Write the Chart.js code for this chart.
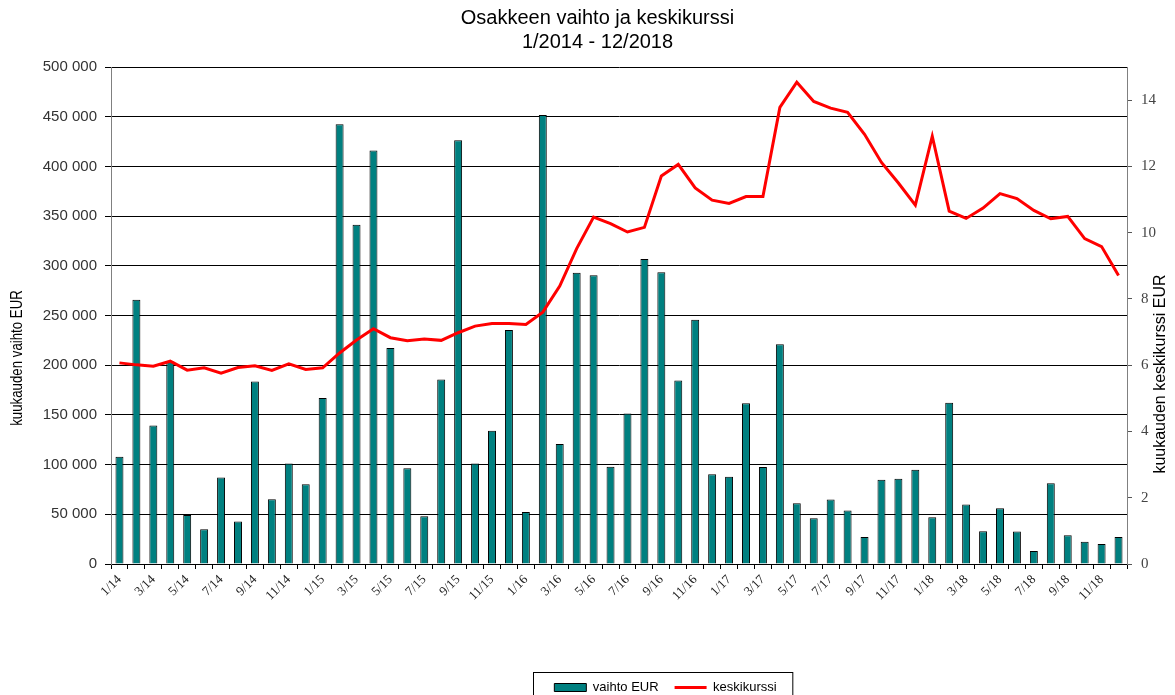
<!DOCTYPE html>
<html>
<head>
<meta charset="utf-8">
<script src="https://cdn.jsdelivr.net/npm/chart.js@4.4.1/dist/chart.umd.min.js"></script>
<style>
  body { margin: 0; background: #fff; }
  #wrap { width: 1175px; height: 695px; }
</style>
</head>
<body>
<div id="wrap"><canvas id="myChart"></canvas></div>
<script>
// DATA
const kuukaudet = [
  '1/14','2/14','3/14','4/14','5/14','6/14','7/14','8/14','9/14','10/14','11/14','12/14',
  '1/15','2/15','3/15','4/15','5/15','6/15','7/15','8/15','9/15','10/15','11/15','12/15',
  '1/16','2/16','3/16','4/16','5/16','6/16','7/16','8/16','9/16','10/16','11/16','12/16',
  '1/17','2/17','3/17','4/17','5/17','6/17','7/17','8/17','9/17','10/17','11/17','12/17',
  '1/18','2/18','3/18','4/18','5/18','6/18','7/18','8/18','9/18','10/18','11/18','12/18'
];
const vaihto = [
  107900, 265800, 139400, 203600, 49400, 35000, 87000, 42700, 183500, 65200, 101000, 80300,
  167000, 442500, 341400, 416000, 217400, 96400, 48000, 185500, 426400, 101000, 134000, 235500,
  52400, 451600, 120600, 293000, 290600, 97800, 151500, 306800, 293600, 184500, 245600, 90400,
  87700, 161600, 97500, 221000, 61200, 46000, 64800, 53800, 27200, 84700, 85700, 94800,
  47000, 162300, 59800, 33000, 56100, 32600, 13100, 81300, 28900, 22500, 20200, 27200
];
const keskikurssi = [
  6.07, 6.01, 5.97, 6.12, 5.85, 5.92, 5.76, 5.93, 5.98, 5.84, 6.04, 5.87,
  5.92, 6.37, 6.76, 7.10, 6.83, 6.74, 6.79, 6.75, 6.98, 7.18, 7.26, 7.26,
  7.23, 7.60, 8.39, 9.52, 10.47, 10.27, 10.02, 10.16, 11.71, 12.06, 11.35, 10.98,
  10.88, 11.09, 11.09, 13.78, 14.54, 13.96, 13.76, 13.63, 12.97, 12.12, 11.50, 10.83,
  12.91, 10.65, 10.43, 10.74, 11.18, 11.03, 10.67, 10.42, 10.49, 9.82, 9.58, 8.71
];
const vaihtoTicks = [0, 50000, 100000, 150000, 200000, 250000, 300000, 350000, 400000, 450000, 500000];
const kurssiTicks = [0, 2, 4, 6, 8, 10, 12, 14];

function tuhannet(v) {
  return String(v).replace(/\B(?=(\d{3})+(?!\d))/g, ' ');
}

// axis titles, legend frame and box nudges
const extras = {
  id: 'extras',
  afterLayout(chart) {
    chart.titleBlock.left += 10;
    chart.titleBlock.right += 10;
    chart.legend.left += 78;
    chart.legend.right += 78;
  },
  afterDraw(chart) {
    const ctx = chart.ctx;
    ctx.save();
    ctx.fillStyle = '#000';
    ctx.textAlign = 'center';
    ctx.textBaseline = 'middle';

    // left title is narrower in the original
    ctx.save();
    ctx.translate(17, 358);
    ctx.rotate(-Math.PI / 2);
    ctx.scale(0.78, 1);
    ctx.font = '17px "Liberation Sans", Arial, sans-serif';
    ctx.fillText('kuukauden vaihto EUR', 0, 0);
    ctx.restore();

    ctx.save();
    ctx.translate(1161, 374);
    ctx.rotate(-Math.PI / 2);
    ctx.font = '16px "Liberation Sans", Arial, sans-serif';
    ctx.fillText('kuukauden keskikurssi EUR', 0, 0);
    ctx.restore();

    // frame round the legend
    const lg = chart.legend;
    const pad = lg.options.labels.padding;
    const w = lg.lineWidths[0] - pad;
    const cx = (lg.left + lg.right) / 2;
    const cy = lg.top + pad + 4;
    ctx.strokeStyle = '#000';
    ctx.lineWidth = 1;
    ctx.strokeRect(Math.round(cx - w / 2 - 21) + 0.5, Math.round(cy - 13.5) + 0.5, w + 37, 40);
    ctx.restore();
  }
};

const ctx = document.getElementById('myChart');

const myChart = new Chart(ctx, {
  type: 'bar',
  data: {
    labels: kuukaudet,
    datasets: [{
      type: 'line',
      label: 'keskikurssi',
      data: keskikurssi,
      yAxisID: 'y1',
      borderColor: '#ff0000',
      backgroundColor: '#ff0000',
      borderWidth: 3,
      pointRadius: 0,
      tension: 0
    }, {
      type: 'bar',
      label: 'vaihto EUR',
      data: vaihto,
      yAxisID: 'y',
      backgroundColor: '#008080',
      borderColor: '#000',
      borderWidth: 1,
      barPercentage: 0.47,
      categoryPercentage: 1
    }]
  },
  options: {
    responsive: true,
    maintainAspectRatio: false,
    animation: false,
    layout: { padding: { left: 0, right: 0, top: 0, bottom: -9 } },
    plugins: {
      title: {
        display: true,
        text: ['Osakkeen vaihto ja keskikurssi', '1/2014 - 12/2018'],
        color: '#000',
        font: { family: '"Liberation Sans", Arial, sans-serif', size: 20, weight: 'normal', lineHeight: 1.2 },
        padding: { top: 6, bottom: 13 }
      },
      legend: {
        position: 'bottom',
        labels: {
          usePointStyle: true,
          pointStyleWidth: 32,
          boxWidth: 32,
          boxHeight: 8,
          padding: 16,
          color: '#000',
          font: { family: '"Liberation Sans", Arial, sans-serif', size: 13 },
          generateLabels(chart) {
            const items = Chart.defaults.plugins.legend.labels.generateLabels(chart);
            items.forEach(it => {
              it.pointStyle = chart.data.datasets[it.datasetIndex].type === 'line' ? 'line' : 'rect';
            });
            return items.reverse();
          }
        }
      },
      tooltip: { enabled: false }
    },
    scales: {
      x: {
        offset: true,
        grid: { drawOnChartArea: false, offset: true, tickLength: 5, color: '#000' },
        border: { color: '#000' },
        ticks: {
          autoSkip: false,
          maxRotation: 45,
          minRotation: 45,
          color: '#222',
          font: { family: '"Liberation Serif", "Times New Roman", serif', size: 13 },
          callback(value, index) {
            return index % 2 === 0 ? this.getLabelForValue(value) : '';
          }
        },
        afterFit(scale) { scale.height = 101; }
      },
      y: {
        position: 'left',
        min: 0,
        max: 500000,
        afterBuildTicks(axis) { axis.ticks = vaihtoTicks.map(v => ({ value: v })); },
        grid: { color: '#000', tickLength: 6 },
        border: { color: '#808080' },
        ticks: {
          padding: 8,
          color: '#333',
          font: { family: '"Liberation Sans", Arial, sans-serif', size: 15 },
          callback: v => tuhannet(v)
        },
        afterFit(scale) { scale.width = 111; }
      },
      y1: {
        position: 'right',
        min: 0,
        max: 15,
        afterBuildTicks(axis) { axis.ticks = kurssiTicks.map(v => ({ value: v })); },
        grid: { drawOnChartArea: false, color: '#555', tickLength: 5 },
        border: { color: '#808080' },
        ticks: {
          padding: 9,
          color: '#444',
          font: { family: '"Liberation Serif", "Times New Roman", serif', size: 15 }
        },
        afterFit(scale) { scale.width = 48; }
      }
    }
  },
  plugins: [extras]
});
</script>
</body>
</html>
